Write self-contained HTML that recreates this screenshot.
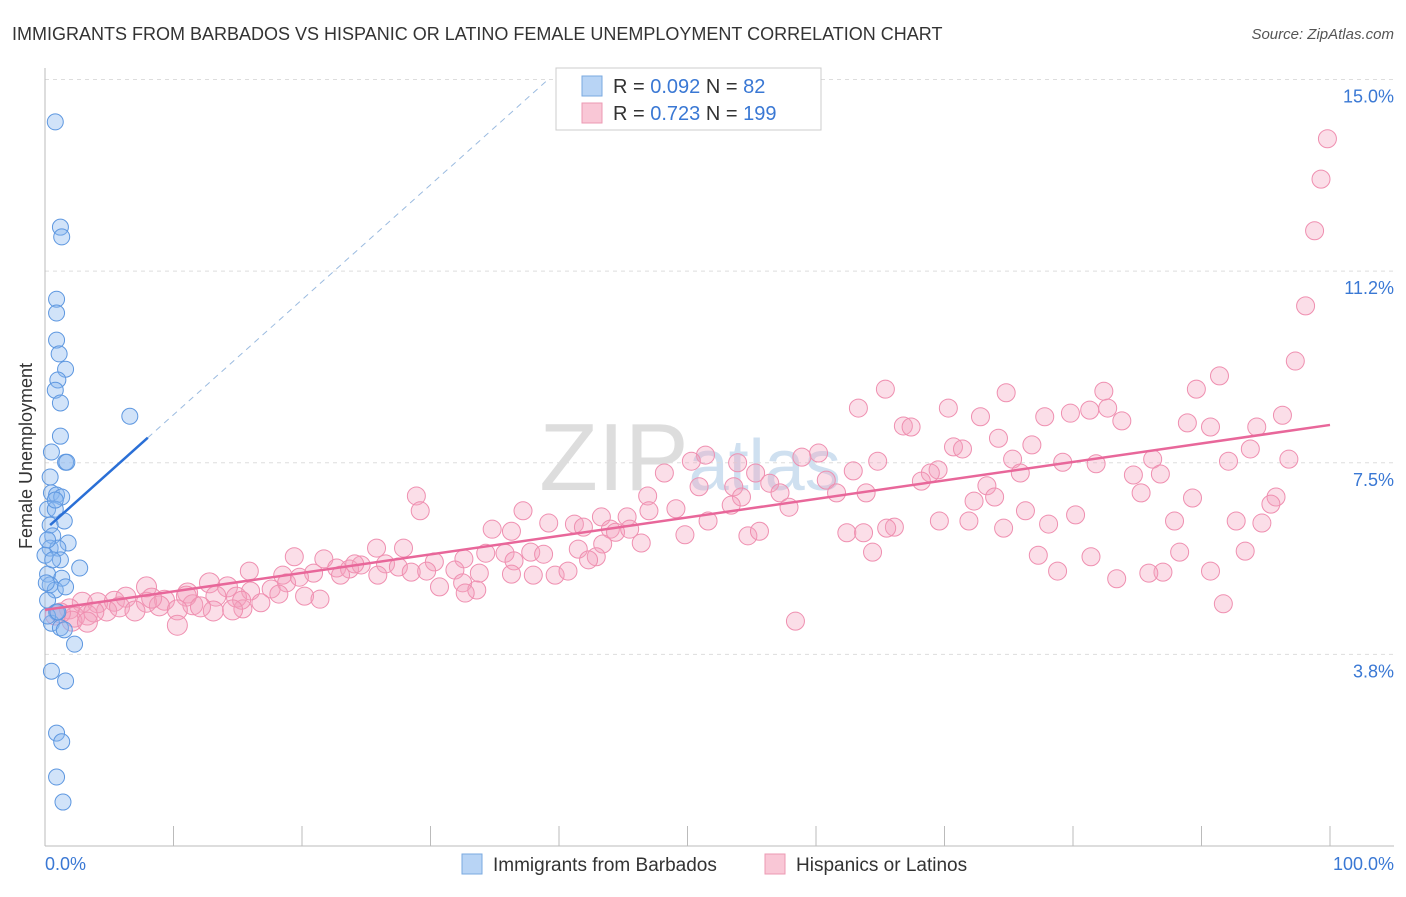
<!DOCTYPE html>
<html><head><meta charset="utf-8"><style>
body{margin:0;background:#fff;font-family:"Liberation Sans",sans-serif}
svg text{font-family:"Liberation Sans",sans-serif}
</style></head><body>
<svg id="chart" width="1406" height="892" xmlns="http://www.w3.org/2000/svg">
<text x="12" y="40" font-size="18" fill="#333">IMMIGRANTS FROM BARBADOS VS HISPANIC OR LATINO FEMALE UNEMPLOYMENT CORRELATION CHART</text>
<text x="1394" y="39" font-size="15" fill="#555" text-anchor="end" font-style="italic">Source: ZipAtlas.com</text>
<text x="690" y="490" font-size="96" fill="#ddd" text-anchor="middle" font-family="Liberation Serif">ZIP<tspan font-family="Liberation Sans" font-size="72" fill="#cfe0f0">atlas</tspan></text>
<text x="32" y="456" font-size="18" fill="#333" text-anchor="middle" transform="rotate(-90 32 456)">Female Unemployment</text>
<g id="grid"></g><g id="ticks"></g><g id="pts"></g><g id="trends"></g>
<g>
<rect x="556" y="68" width="265" height="62" fill="#fff" stroke="#ccc"/>
<rect x="582" y="76" width="20" height="20" fill="#b8d4f5" stroke="#7aaae0"/>
<rect x="582" y="103" width="20" height="20" fill="#f9c7d6" stroke="#ec9ab3"/>
<text x="613" y="93" font-size="20" fill="#333">R = <tspan fill="#3a78d4">0.092</tspan>   N =  <tspan fill="#3a78d4"> 82</tspan></text>
<text x="613" y="120" font-size="20" fill="#333">R =  <tspan fill="#3a78d4">0.723</tspan>   N = <tspan fill="#3a78d4">199</tspan></text>
</g>
<g>
<rect x="462" y="854" width="20" height="20" fill="#b8d4f5" stroke="#7aaae0"/>
<text x="493" y="871" font-size="19" fill="#333">Immigrants from Barbados</text>
<rect x="765" y="854" width="20" height="20" fill="#f9c7d6" stroke="#ec9ab3"/>
<text x="796" y="871" font-size="19" fill="#333">Hispanics or Latinos</text>
</g>
</svg>
<script>
const blueX=[0.8,1.2,1.3,0.9,0.9,0.9,1.1,1.6,1.0,0.8,1.2,6.6,1.2,0.5,1.6,1.7,0.4,0.5,0.9,1.3,0.2,0.8,1.5,0.4,0.6,1.8,0.4,1.0,0.0,1.2,2.7,0.2,1.3,0.4,0.8,1.6,0.2,0.9,0.5,1.2,1.5,2.3,0.5,1.6,0.9,1.3,0.9,1.4,0.2,0.6,0.2,1.0,0.1,0.8];
const blueY=[14.17,12.11,11.92,10.70,10.43,9.90,9.63,9.33,9.12,8.92,8.67,8.41,8.02,7.71,7.51,7.51,7.22,6.91,6.87,6.83,6.59,6.59,6.36,6.28,6.07,5.93,5.83,5.83,5.69,5.60,5.44,5.32,5.24,5.11,5.01,5.07,4.81,4.58,4.36,4.27,4.23,3.95,3.42,3.23,2.21,2.04,1.35,0.86,5.99,5.60,4.50,4.58,5.15,6.77];
const pinkX=[99.8,99.3,98.8,98.1,97.3,91.4,89.6,82.4,74.8,65.4,63.3,70.3,82.7,81.3,79.8,96.3,72.8,77.8,83.8,88.9,66.8,67.4,90.7,94.3,74.2,76.8,93.8,70.7,71.4,60.2,51.4,50.3,53.9,64.8,92.1,96.8,86.2,81.8,79.2,75.3,58.9,48.2,55.3,62.9,69.5,68.9,75.9,84.7,86.8,68.2,60.8,56.4,50.9,53.6,73.3,85.3,46.9,54.2,61.6,57.2,63.9,95.8,72.3,73.9,89.3,95.4,28.9,29.2,37.2,45.3,49.1,47.0,57.9,53.4,76.3,51.6,43.3,41.2,39.2,69.6,71.9,80.2,78.1,87.9,92.7,94.7,34.8,36.3,44.0,44.4,45.5,41.9,49.8,54.7,55.6,66.1,65.5,62.4,63.7,74.6,46.4,43.4,41.5,37.8,35.8,34.3,32.6,36.5,38.8,19.4,21.7,25.8,27.9,30.3,42.9,42.3,64.4,77.3,88.3,93.4,81.4,15.9,18.5,20.9,22.7,23.7,24.6,26.5,27.5,24.1,28.5,29.7,31.9,33.8,36.3,39.7,40.7,78.8,90.7,87.0,83.4,85.9,12.8,14.2,16.0,17.6,18.8,19.8,23.0,25.9,30.7,32.5,33.6,38.0,7.9,9.3,11.1,13.3,14.9,11.5,13.1,15.4,16.8,18.2,20.2,21.4,11.0,2.9,4.1,5.4,6.3,7.9,8.9,10.3,15.3,1.9,2.3,3.3,4.8,5.8,7.0,3.8,2.1,0.8,1.2,3.3,10.3,12.1,32.7,58.4,91.7,14.6,8.3];
const pinkY=[13.84,13.05,12.04,10.57,9.49,9.20,8.94,8.90,8.87,8.94,8.57,8.57,8.57,8.53,8.47,8.43,8.40,8.40,8.32,8.28,8.22,8.20,8.20,8.20,7.98,7.85,7.77,7.81,7.77,7.69,7.65,7.53,7.50,7.53,7.53,7.57,7.57,7.48,7.51,7.57,7.61,7.30,7.30,7.34,7.36,7.30,7.30,7.26,7.28,7.14,7.16,7.10,7.03,7.03,7.05,6.91,6.85,6.83,6.91,6.91,6.91,6.83,6.75,6.83,6.81,6.69,6.85,6.56,6.56,6.44,6.60,6.56,6.63,6.67,6.56,6.36,6.44,6.30,6.32,6.36,6.36,6.48,6.30,6.36,6.36,6.32,6.20,6.16,6.20,6.14,6.20,6.24,6.09,6.07,6.16,6.24,6.22,6.13,6.13,6.22,5.93,5.91,5.81,5.75,5.73,5.73,5.62,5.58,5.71,5.66,5.62,5.83,5.83,5.56,5.66,5.60,5.75,5.69,5.75,5.77,5.66,5.38,5.30,5.34,5.44,5.42,5.50,5.52,5.46,5.52,5.36,5.38,5.40,5.34,5.32,5.30,5.38,5.38,5.38,5.36,5.23,5.34,5.15,5.07,4.99,5.03,5.15,5.26,5.30,5.30,5.07,5.15,5.01,5.30,5.07,4.81,4.95,4.89,4.87,4.72,4.60,4.64,4.76,4.93,4.89,4.83,4.89,4.77,4.76,4.79,4.87,4.77,4.70,4.62,4.81,4.64,4.48,4.52,4.60,4.68,4.60,4.58,4.40,4.52,4.56,4.38,4.32,4.68,4.95,4.40,4.74,4.62,4.85];
const yTicks=[3.75,7.5,11.25,15];
const yTickLabels=["3.8%","7.5%","11.2%","15.0%"];
const xTicks=[0,10,20,30,40,50,60,70,80,90,100];
const pinkTrend=[4.62,8.24];
const blueTrend=[6.19,0.225];
const X0=45,X1=1330,YB=846,PPU=51.1;
const sx=v=>X0+v*(X1-X0)/100, sy=v=>YB-v*PPU;
const NS="http://www.w3.org/2000/svg";
function mk(t,a,p){const e=document.createElementNS(NS,t);for(const k in a)e.setAttribute(k,a[k]);p.appendChild(e);return e;}
const grid=document.getElementById('grid'),ticks=document.getElementById('ticks'),pts=document.getElementById('pts'),tr=document.getElementById('trends');
yTicks.forEach((v,i)=>{
 const l=mk('line',{x1:X0,x2:1394,y1:sy(v),y2:sy(v),stroke:'#ddd','stroke-dasharray':'4,4'},grid);
 
 
 const t=mk('text',{x:1394,y:sy(v)+23,'font-size':18,fill:'#3a78d4','text-anchor':'end'},ticks);
 t.textContent=yTickLabels[i];
 
 
});
const ax=mk('line',{x1:X0,x2:X0,y1:68,y2:YB,stroke:'#bbb'},grid);


const bx=mk('line',{x1:X0,x2:1394,y1:YB,y2:YB,stroke:'#bbb'},grid);


xTicks.forEach(v=>{
 const l=mk('line',{x1:sx(v),x2:sx(v),y1:826,y2:YB,stroke:'#bbb'},ticks);
 
 
});
const xl=mk('text',{x:45,y:870,'font-size':18,fill:'#3a78d4'},ticks);xl.textContent="0.0%";


const xr=mk('text',{x:1394,y:870,'font-size':18,fill:'#3a78d4','text-anchor':'end'},ticks);xr.textContent="100.0%";


pinkX.forEach((v,i)=>{
 const c=mk('circle',{cx:sx(v),cy:sy(pinkY[i]),r:v<15?10:9,fill:'rgba(244,160,188,0.35)',stroke:'#ef8fb0','stroke-width':1},pts);
 
 
});
blueX.forEach((v,i)=>{
 const c=mk('circle',{cx:sx(v),cy:sy(blueY[i]),r:8,fill:'rgba(140,185,240,0.4)',stroke:'#5d97e0','stroke-width':1},pts);
 
 
});
const pl=mk('line',{x1:sx(0),y1:sy(pinkTrend[0]),x2:sx(100),y2:sy(pinkTrend[1]),stroke:'#e8679a','stroke-width':2.5},tr);


const bEnd=(15-blueTrend[0])/blueTrend[1];
const bd=mk('line',{x1:sx(8),y1:sy(blueTrend[0]+8*blueTrend[1]),x2:sx(bEnd),y2:sy(15),stroke:'#9bbbe0','stroke-width':1,'stroke-dasharray':'6,5'},tr);


const bl=mk('line',{x1:sx(0.4),y1:sy(blueTrend[0]+0.4*blueTrend[1]),x2:sx(8),y2:sy(blueTrend[0]+8*blueTrend[1]),stroke:'#2a6fd6','stroke-width':2.5},tr);


</script>
</body></html>
